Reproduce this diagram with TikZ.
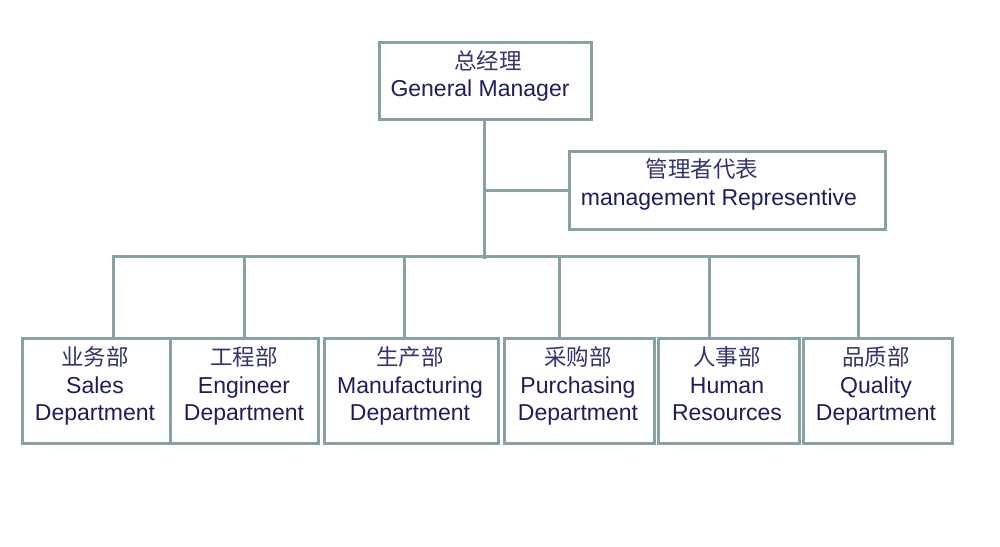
\documentclass[tikz,border=0pt]{standalone}
\usepackage{fontspec}
\setmainfont{Liberation Sans}
\newfontfamily\cjk{Noto Sans CJK SC}
\definecolor{lncol}{HTML}{88A2A4}
\definecolor{txcol}{HTML}{1E1D5E}
\definecolor{zhcol}{HTML}{35346E}
\begin{document}
\begin{tikzpicture}[x=1pt,y=-1pt,
  box/.style={draw=lncol,line width=3pt,fill=white,inner sep=0pt,anchor=north west},
  ln/.style={draw=lncol,line width=3pt,line join=miter},
  en/.style={text=txcol,font=\fontsize{23}{27.5}\selectfont,align=center,anchor=base,inner sep=0pt},
  zh/.style={text=zhcol,font=\cjk\fontsize{22.5}{25}\selectfont,anchor=center,inner sep=0pt}]
\useasboundingbox[fill=white] (0,0) rectangle (1000,546);
% boxes
\node[box,minimum width=212pt,minimum height=77pt] (gm) at (378,41) {};
\node[box,minimum width=316pt,minimum height=78pt] (mr) at (568,150) {};
\node[box,minimum width=148pt,minimum height=105pt] (sales) at (21,337) {};
\node[box,minimum width=148pt,minimum height=105pt] (eng) at (169,337) {};
\node[box,minimum width=174pt,minimum height=105pt] (man) at (323,337) {};
\node[box,minimum width=150pt,minimum height=105pt] (pur) at (503,337) {};
\node[box,minimum width=141pt,minimum height=105pt] (hr) at (657,337) {};
\node[box,minimum width=149pt,minimum height=105pt] (qa) at (802,337) {};
% connectors
\coordinate (trunk) at (484.5,259);
\coordinate (d1) at (113,256.5);
\coordinate (d2) at (244,256.5);
\coordinate (d3) at (404,256.5);
\coordinate (d4) at (559,256.5);
\coordinate (d5) at (709,256.5);
\coordinate (d6) at (858,256.5);
\draw[ln] (gm.south -| trunk) -- (trunk);
\draw[ln] (trunk |- mr.west) -- (mr.west);
\draw[ln] (d1 |- sales.north) -- (d1) -- (d6) -- (d6 |- qa.north);
\draw[ln] (d2) -- (d2 |- eng.north);
\draw[ln] (d3) -- (d3 |- man.north);
\draw[ln] (d4) -- (d4 |- pur.north);
\draw[ln] (d5) -- (d5 |- hr.north);
% texts
\node[zh] (t1) at (488,61) {总经理};
\node[en] (t2) at (480,96.7) {General Manager};
\node[zh] (t3) at (702,169) {管理者代表};
\node[en] (t4) at (719,205) {management Representive};
\node[zh] (s1) at (95,357) {业务部};
\node[en] (s2) at (95,420.7) {Sales\\Department};
\node[zh] (e1) at (244,357) {工程部};
\node[en] (e2) at (244,420.7) {Engineer\\Department};
\node[zh] (m1) at (410,357) {生产部};
\node[en] (m2) at (410,420.7) {Manufacturing\\Department};
\node[zh] (p1) at (578,357) {采购部};
\node[en] (p2) at (578,420.7) {Purchasing\\Department};
\node[zh] (h1) at (727,357) {人事部};
\node[en] (h2) at (727,420.7) {Human\\Resources};
\node[zh] (q1) at (876,357) {品质部};
\node[en] (q2) at (876,420.7) {Quality\\Department};
\end{tikzpicture}
\end{document}
